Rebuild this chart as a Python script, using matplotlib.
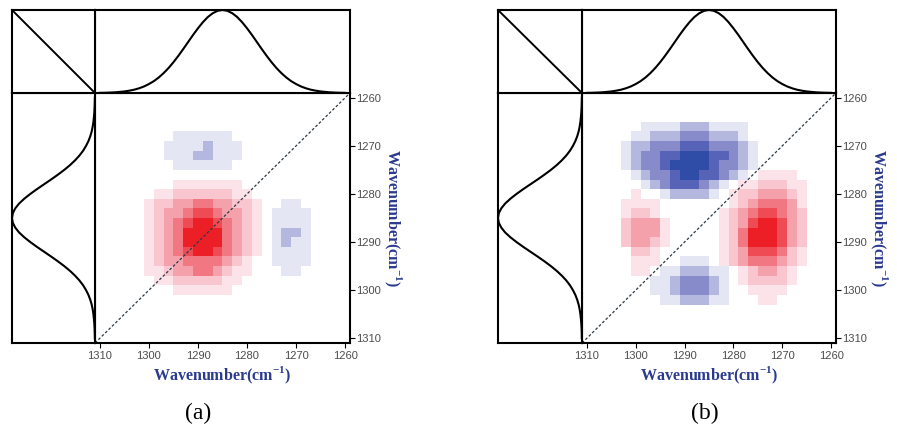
import matplotlib
matplotlib.use("Agg")
import numpy as np
import matplotlib.pyplot as plt
from matplotlib.colors import ListedColormap, BoundaryNorm

plt.rcParams["mathtext.fontset"] = "custom"
plt.rcParams["mathtext.bf"] = "Liberation Serif:bold"
plt.rcParams["mathtext.rm"] = "Liberation Serif:bold"

# 1D reference spectrum (normalised intensity vs wavenumber, cm-1)
spec_wn = list(range(1260, 1311))
spec_int = [0.002, 0.003, 0.005, 0.008, 0.013, 0.019, 0.028, 0.040, 0.057, 0.079,
            0.108, 0.143, 0.187, 0.240, 0.301, 0.371, 0.448, 0.530, 0.615, 0.700,
            0.780, 0.853, 0.915, 0.961, 0.990, 1.000, 0.990, 0.961, 0.915, 0.853,
            0.780, 0.700, 0.615, 0.530, 0.448, 0.371, 0.301, 0.240, 0.187, 0.143,
            0.108, 0.079, 0.057, 0.040, 0.028, 0.019, 0.013, 0.008, 0.005, 0.003,
            0.002]

# 2D map grid: rows go 1260 -> 1310 (top to bottom), columns 1310 -> 1260 (left to right)
map_rows = list(range(1260, 1311, 2))
map_cols = list(range(1310, 1259, -2))
tick_vals = [1310, 1300, 1290, 1280, 1270, 1260]

# contour level per cell: '.'=0, '1'..'6' positive (red), 'a'..'e' negative (blue, -1..-5)
map_a = [
    "..........................",
    "..........................",
    "..........................",
    "..........................",
    "........aaaaaa............",
    ".......aaaabaaa...........",
    ".......aaabbaaa...........",
    "........aaaaaa............",
    "..........................",
    "........1111111...........",
    "......1122222211..........",
    ".....122334433221..aa.....",
    ".....123345543321.aaaa....",
    ".....123456654321.aaaa....",
    ".....123466664321.abba....",
    ".....123466664321.abaa....",
    ".....123456654321.aaaa....",
    ".....12334444321..aaaa....",
    ".....11233443211...aa.....",
    "......112222211...........",
    "........111111............",
    "..........................",
    "..........................",
    "..........................",
    "..........................",
    "..........................",
]

map_b = [
    "..........................",
    "..........................",
    "..........................",
    "......aaaabbbaaaa.........",
    ".....aabbbcccbbba.........",
    "....abbcccdddcccba........",
    "....abccddeeeddcba........",
    "....abccdeeeedccba........",
    ".....abccdeeddcba.1111....",
    "......abcdddcba.1122211...",
    ".....1..abbbba.12233321...",
    "....1111.......12344431...",
    "....1221......123455432...",
    "....23331.....123566532...",
    "....23331.....124666532...",
    "....23321.....124666532...",
    ".....221......123555421...",
    ".....111..aaa.123444321...",
    ".....11.aabbbaa.123321....",
    ".......aabcccba.122221....",
    ".......aabcccba..1111.....",
    "........aabbbaa...11......",
    "..........................",
    "..........................",
    "..........................",
    "..........................",
]

level_code = {"e": -5, "d": -4, "c": -3, "b": -2, "a": -1, ".": 0,
              "1": 1, "2": 2, "3": 3, "4": 4, "5": 5, "6": 6}
level_colors = ["#2f4da6", "#5763b6", "#878bc9", "#b4b7de", "#e4e6f3", "#ffffff",
                "#fce3e9", "#f9c6cf", "#f5a1ab", "#f17882", "#ee4b55", "#ec1f27"]
cmap = ListedColormap(level_colors)
norm = BoundaryNorm(np.arange(-5.5, 7.0, 1.0), cmap.N)

W, H = 897, 426
LBL_BLUE = "#2b3a8f"
TICK_GRAY = "#4d4d4d"
LW = 1.5


def box(x, y, w, h):
    # pixel box (top-left origin) -> figure fraction
    return [x / W, 1 - (y + h) / H, w / W, h / H]


def frame(ax):
    for s in ax.spines.values():
        s.set_linewidth(LW)
        s.set_color("black")


def panel(fig, x_side, x_main, x_right, grid, tag, tag_x):
    xlo, xhi = max(map_cols) + 1, min(map_cols) - 1
    ylo, yhi = min(map_rows) - 1, max(map_rows) + 1
    main_w = x_right - x_main
    side_w = x_main - x_side

    ax = fig.add_axes(box(x_main, 93, main_w, 250))
    vals = np.array([[level_code[c] for c in row] for row in grid])
    ax.imshow(vals, cmap=cmap, norm=norm, interpolation="nearest",
              extent=(xlo, xhi, yhi, ylo), origin="upper", aspect="auto")
    ax.plot([xlo, xhi], [yhi, ylo], color="#2c3a44", lw=0.9, ls=(0, (2.2, 1.6)))
    ax.set_xlim(xlo, xhi)
    ax.set_ylim(yhi, ylo)
    ax.set_xticks(tick_vals)
    ax.set_yticks(tick_vals)
    ax.tick_params(axis="x", direction="out", length=3.5, width=0.8, pad=2,
                   labelsize=8, labelcolor=TICK_GRAY)
    ax.tick_params(axis="y", left=False, right=True, labelleft=False, labelright=True,
                   direction="out", length=3.5, width=0.8, pad=1,
                   labelsize=8, labelcolor=TICK_GRAY)
    for lab in ax.get_xticklabels() + ax.get_yticklabels():
        lab.set_fontfamily("Liberation Sans")
    ax.set_xlabel(r"Wavenumber(cm$^{\mathbf{-1}}$)", fontsize=11.5, fontweight="bold",
                  fontfamily="Liberation Serif", color=LBL_BLUE, labelpad=3)
    ax.yaxis.set_label_position("right")
    ax.set_ylabel(r"Wavenumber(cm$^{\mathbf{-1}}$)", fontsize=11.5, fontweight="bold",
                  fontfamily="Liberation Serif", color=LBL_BLUE, rotation=270,
                  labelpad=16)
    frame(ax)

    top = fig.add_axes(box(x_main, 10, main_w, 83))
    top.plot(spec_wn, spec_int, color="black", lw=1.5)
    top.set_xlim(xlo, xhi)
    top.set_ylim(0, 1.0)
    top.set_xticks([])
    top.set_yticks([])
    frame(top)

    side = fig.add_axes(box(x_side, 93, side_w, 250))
    side.plot(spec_int, spec_wn, color="black", lw=1.5)
    side.set_xlim(1.0, 0)
    side.set_ylim(yhi, ylo)
    side.set_xticks([])
    side.set_yticks([])
    frame(side)

    corner = fig.add_axes(box(x_side, 10, side_w, 83))
    corner.plot([0, 1], [1, 0], color="black", lw=1.4)
    corner.set_xlim(0, 1)
    corner.set_ylim(0, 1)
    corner.set_xticks([])
    corner.set_yticks([])
    frame(corner)

    fig.text(tag_x / W, 1 - 413 / H, tag, ha="center", va="center",
             fontsize=17, fontfamily="Liberation Serif")


fig = plt.figure(figsize=(W / 100, H / 100), dpi=100)
panel(fig, 12, 95, 350, map_a, "(a)", 198)
panel(fig, 498, 582, 836, map_b, "(b)", 705)
fig.savefig("out.png", dpi=100)
